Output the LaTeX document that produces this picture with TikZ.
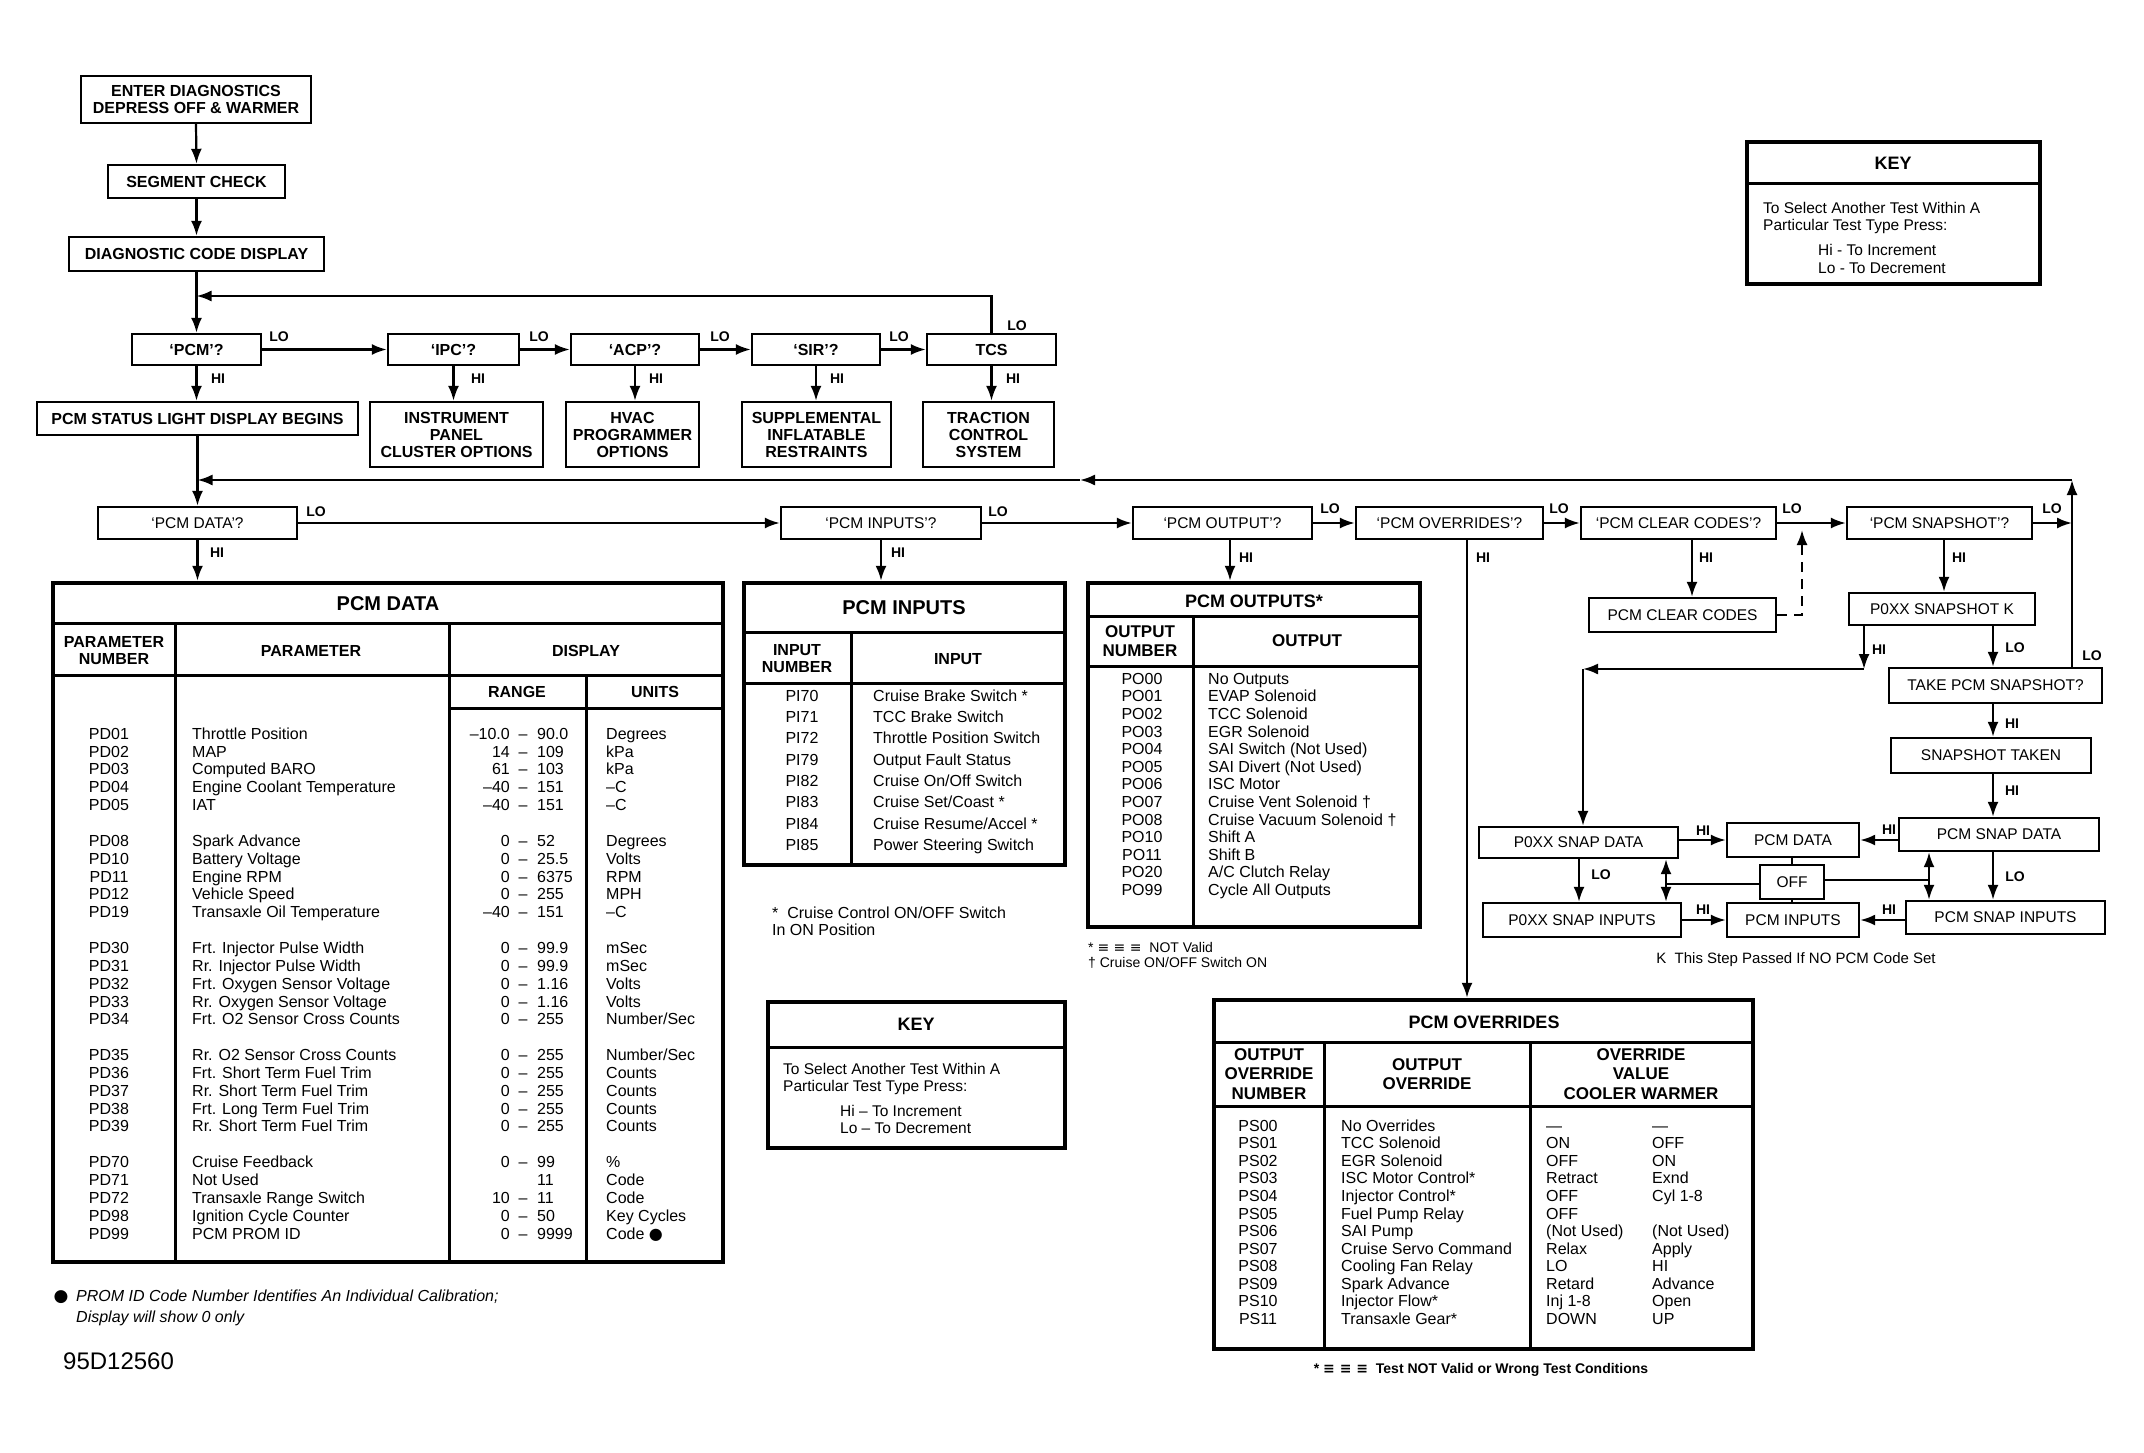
\documentclass[tikz,border=0pt]{standalone}
\usepackage{fontspec}
\setmainfont{Liberation Sans}
\newfontfamily\djv{DejaVu Sans}
\usetikzlibrary{arrows.meta,calc}
\newcommand\mkbox[7]{\node[#2, minimum width={(#5)-(#3)}, minimum height={(#6)-(#4)}] (#1) at ({((#3)+(#5))/2},{((#4)+(#6))/2}) {#7};}
\begin{document}
\begin{tikzpicture}[x=1pt,y=-1pt,
  fb/.style={draw, line width=2.4pt, inner sep=0pt, align=center, font=\bfseries\fontsize{16}{17}\selectfont},
  rb/.style={draw, line width=2.4pt, inner sep=0pt, align=center, font=\fontsize{15.5}{17}\selectfont},
  tframe/.style={draw, line width=4.5pt, inner sep=0pt},
  kframe/.style={draw, line width=3.5pt, inner sep=0pt},
  lbl/.style={font=\bfseries\fontsize{14}{14}\selectfont, inner sep=0pt},
  arr/.style={line width=2.2pt, -{Latex[length=15pt,width=11pt]}},
  darr/.style={line width=2.2pt, {Latex[length=15pt,width=11pt]}-{Latex[length=15pt,width=11pt]}},
  ln/.style={line width=2.2pt},
  divl/.style={line width=3pt},
  ttl/.style={font=\bfseries\fontsize{20}{20}\selectfont, inner sep=0pt},
  ttls/.style={font=\bfseries\fontsize{18}{18}\selectfont, inner sep=0pt},
  hd/.style={font=\bfseries\fontsize{16}{17}\selectfont, align=center, inner sep=0pt},
  hdb/.style={font=\bfseries\fontsize{17}{19.5}\selectfont, align=center, inner sep=0pt},
  cell/.style={font=\fontsize{16}{16}\selectfont, inner sep=0pt, text height=11.5pt, text depth=3pt},
  ktext/.style={font=\fontsize{15.5}{16}\selectfont, inner sep=0pt, anchor=west},
  notetxt/.style={font=\fontsize{14}{16}\selectfont, inner sep=0pt, anchor=west}]
\useasboundingbox[fill=white] (0,0) rectangle (2144,1453);

% ---------- top flow ----------
\mkbox{enter}{fb}{81}{76}{311}{123}{ENTER DIAGNOSTICS\\DEPRESS OFF \& WARMER}
\mkbox{seg}{fb}{108}{165}{285}{198}{SEGMENT CHECK}
\mkbox{diag}{fb}{69}{237}{324}{271}{DIAGNOSTIC CODE DISPLAY}
\mkbox{pcm}{fb}{132}{334}{261}{365}{‘PCM’?}
\mkbox{ipc}{fb}{388}{334}{519}{365}{‘IPC’?}
\mkbox{acp}{fb}{571}{334}{699}{365}{‘ACP’?}
\mkbox{sir}{fb}{752}{334}{880}{365}{‘SIR’?}
\mkbox{tcs}{fb}{927}{334}{1056}{365}{TCS}
\mkbox{status}{fb}{37}{402}{358}{435}{PCM STATUS LIGHT DISPLAY BEGINS}
\mkbox{ipco}{fb}{370}{402}{543}{467}{INSTRUMENT\\PANEL\\CLUSTER OPTIONS}
\mkbox{hvac}{fb}{566}{402}{699}{467}{HVAC\\PROGRAMMER\\OPTIONS}
\mkbox{sup}{fb}{742}{402}{891}{467}{SUPPLEMENTAL\\INFLATABLE\\RESTRAINTS}
\mkbox{trac}{fb}{923}{402}{1054}{467}{TRACTION\\CONTROL\\SYSTEM}

\draw[arr] (enter.south) -- (seg.north);
\draw[arr] (seg.south) -- (diag.north);
\draw[arr] (diag.south) -- (pcm.north);
\coordinate (loopL) at (196.5,296);
\draw[arr] (tcs.north) -- (tcs.north |- loopL) -- (loopL);
\node[lbl] (lotcs) at (1017,326) {LO};
\foreach \p/\q/\x in {pcm/ipc/279, ipc/acp/539, acp/sir/720, sir/tcs/899}{
  \draw[arr] (\p.east) -- (\q.west);
  \node[lbl] (lo\p) at (\x,337) {LO};
}
\foreach \p/\q/\x in {pcm/status/218, ipc/ipco/478, acp/hvac/656, sir/sup/837, tcs/trac/1013}{
  \draw[arr] (\p.south) -- (\p.south |- \q.north);
  \node[lbl] (hi\p) at (\x,379) {HI};
}

% ---------- second level ----------
\mkbox{pdata}{rb}{98}{507}{297}{539}{‘PCM DATA’?}
\mkbox{pinputs}{rb}{781}{507}{981}{539}{‘PCM INPUTS’?}
\mkbox{pout}{rb}{1133}{507}{1312}{539}{‘PCM OUTPUT’?}
\mkbox{pover}{rb}{1356}{507}{1543}{539}{‘PCM OVERRIDES’?}
\mkbox{pclear}{rb}{1581}{507}{1776}{539}{‘PCM CLEAR CODES’?}
\mkbox{psnap}{rb}{1847}{507}{2032}{539}{‘PCM SNAPSHOT’?}

\draw[arr] (status.south) -- (status.south |- pdata.north);
\foreach \p/\q/\x/\y in {pdata/pinputs/316/512, pinputs/pout/998/512, pout/pover/1330/509, pover/pclear/1559/509, pclear/psnap/1792/509}{
  \draw[arr] (\p.east) -- (\q.west);
  \node[lbl] (lo\p) at (\x,\y) {LO};
}
\coordinate (rx) at (2072,480);
\coordinate (rmid) at (1080,480);
\coordinate (lret) at (197.5,480);
\draw[arr] (psnap.east) -- (psnap.east -| rx);
\node[lbl] (lopsnap) at (2052,509) {LO};

% ---------- snapshot area ----------
\mkbox{clr}{rb}{1589}{598}{1776}{632}{PCM CLEAR CODES}
\mkbox{snapk}{rb}{1849}{593}{2035}{625}{P0XX SNAPSHOT K}
\mkbox{take}{rb}{1889}{668}{2102}{703}{TAKE PCM SNAPSHOT?}
\mkbox{taken}{rb}{1891}{738}{2091}{773}{SNAPSHOT TAKEN}
\mkbox{sdata}{rb}{1899}{818}{2099}{851}{PCM SNAP DATA}
\mkbox{sinp}{rb}{1906}{901}{2105}{934}{PCM SNAP INPUTS}
\mkbox{xdata}{rb}{1479}{827}{1678}{858}{P0XX SNAP DATA}
\mkbox{cdata}{rb}{1727}{823}{1859}{857}{PCM DATA}
\mkbox{xinp}{rb}{1483}{903}{1681}{937}{P0XX SNAP INPUTS}
\mkbox{cinp}{rb}{1727}{903}{1859}{937}{PCM INPUTS}
\mkbox{offb}{rb}{1760}{865}{1824}{899}{OFF}

% return line
\draw[arr] (take.north -| rx) -- (rx);
\draw[arr] (rx) -- (rmid);
\draw[arr] (rmid) -- (lret);
\node[lbl] (lotake) at (2092,656) {LO};

\coordinate (cx1) at (1692,0);
\draw[arr] (pclear.south -| cx1) -- (clr.north -| cx1);
\node[lbl] (hipclear) at (1706,558) {HI};
\coordinate (dtop) at (1802,530);
\draw[line width=2.2pt, dash pattern=on 10pt off 7pt, -{Latex[length=15pt,width=11pt]}] (clr.east) -| (dtop);

\coordinate (sx) at (1944,0);
\draw[arr] (psnap.south -| sx) -- (snapk.north -| sx);
\node[lbl] (hipsnap) at (1959,558) {HI};

\coordinate (kc) at (1864,669);
\coordinate (kl) at (1583,669);
\draw[arr] (snapk.south -| kc) -- (kc);
\draw[arr] (kc) -- (kl);
\draw[arr] (kl) -- (kl |- xdata.north);
\node[lbl] (hik) at (1879,650) {HI};

\coordinate (cx2) at (1993,0);
\draw[arr] (snapk.south -| cx2) -- (take.north -| cx2);
\node[lbl] (lok) at (2015,648) {LO};
\draw[arr] (take.south -| cx2) -- (taken.north -| cx2);
\node[lbl] (hitake) at (2012,724) {HI};
\draw[arr] (taken.south -| cx2) -- (sdata.north -| cx2);
\node[lbl] (hitaken) at (2012,791) {HI};
\draw[arr] (sdata.south -| cx2) -- (sinp.north -| cx2);
\node[lbl] (losdata) at (2015,877) {LO};

\draw[arr] (xdata.east |- cdata.west) -- (cdata.west);
\node[lbl] (hixdata) at (1703,831) {HI};
\draw[arr] (sdata.west |- cdata.east) -- (cdata.east);
\node[lbl] (hisdata) at (1889,830) {HI};
\draw[arr] (xinp.east |- cinp.west) -- (cinp.west);
\node[lbl] (hixinp) at (1703,910) {HI};
\draw[arr] (sinp.west |- cinp.east) -- (cinp.east);
\node[lbl] (hisinp) at (1889,910) {HI};
\coordinate (lx) at (1579,0);
\draw[arr] (xdata.south -| lx) -- (xinp.north -| lx);
\node[lbl] (loxdata) at (1601,875) {LO};

\draw[ln] (cdata.south -| offb.north) -- (offb.north);
\draw[ln] (offb.south) -- (offb.south |- cinp.north);
\coordinate (la) at (1666,884);
\coordinate (ra) at (1929,880);
\draw[ln] (offb.west |- la) -- (la);
\draw[darr] (la |- xdata.south) -- (la |- xinp.north);
\draw[ln] (offb.east |- ra) -- (ra);
\draw[darr] (ra |- sdata.south) -- (ra |- sinp.north);
\node[font=\fontsize{15}{16}\selectfont, inner sep=0pt] (knote) at (1796,960) {K\ \ This Step Passed If NO PCM Code Set};

% ---------- PCM DATA table ----------
\mkbox{tdata}{tframe}{53}{583}{723}{1262}{}
\draw[arr] (pdata.south) -- (pdata.south |- tdata.north);
\node[lbl] (hipdata) at (217,553) {HI};
\draw[divl] (53,623) -- (723,623);
\draw[divl] (53,675) -- (723,675);
\draw[divl] (449,708) -- (723,708);
\draw[divl] (175,623) -- (175,1262);
\draw[divl] (449,623) -- (449,1262);
\draw[divl] (586,675) -- (586,1262);
\node[ttl] (tdatat) at (388,604) {PCM DATA};
\node[hd] (h1) at (114,651) {PARAMETER\\NUMBER};
\node[hd] (h2) at (311,651) {PARAMETER};
\node[hd] (h3) at (586,651) {DISPLAY};
\node[hd] (h4) at (517,692) {RANGE};
\node[hd] (h5) at (655,692) {UNITS};
\foreach \i/\n/\p/\a/\d/\b/\u in {
0/PD01/Throttle Position/–10.0/–/90.0/Degrees,
1/PD02/MAP/14/–/109/kPa,
2/PD03/Computed BARO/61/–/103/kPa,
3/PD04/Engine Coolant Temperature/–40/–/151/–C,
4/PD05/IAT/–40/–/151/–C,
6/PD08/Spark Advance/0/–/52/Degrees,
7/PD10/Battery Voltage/0/–/25.5/Volts,
8/PD11/Engine RPM/0/–/6375/RPM,
9/PD12/Vehicle Speed/0/–/255/MPH,
10/PD19/Transaxle Oil Temperature/–40/–/151/–C,
12/PD30/Frt. Injector Pulse Width/0/–/99.9/mSec,
13/PD31/Rr. Injector Pulse Width/0/–/99.9/mSec,
14/PD32/Frt. Oxygen Sensor Voltage/0/–/1.16/Volts,
15/PD33/Rr. Oxygen Sensor Voltage/0/–/1.16/Volts,
16/PD34/Frt. O2 Sensor Cross Counts/0/–/255/{Number/Sec},
18/PD35/Rr. O2 Sensor Cross Counts/0/–/255/{Number/Sec},
19/PD36/Frt. Short Term Fuel Trim/0/–/255/Counts,
20/PD37/Rr. Short Term Fuel Trim/0/–/255/Counts,
21/PD38/Frt. Long Term Fuel Trim/0/–/255/Counts,
22/PD39/Rr. Short Term Fuel Trim/0/–/255/Counts,
24/PD70/Cruise Feedback/0/–/99/\%,
25/PD71/Not Used/{}/{}/11/Code,
26/PD72/Transaxle Range Switch/10/–/11/Code,
27/PD98/Ignition Cycle Counter/0/–/50/Key Cycles,
28/PD99/PCM PROM ID/0/–/9999/{Code {\djv ●}}}{
  \path (109,{735+\i*17.85}) node[cell] (dn\i) {\n}
        (192,{735+\i*17.85}) node[cell,anchor=west] (dp\i) {\p}
        (510,{735+\i*17.85}) node[cell,anchor=east] (da\i) {\a}
        (523,{735+\i*17.85}) node[cell] (dd\i) {\d}
        (537,{735+\i*17.85}) node[cell,anchor=west] (db\i) {\b}
        (606,{735+\i*17.85}) node[cell,anchor=west] (du\i) {\u};
}
\node[font=\djv\fontsize{17}{16}\selectfont, inner sep=0pt] (bul) at (61,1297) {●};
\node[font=\itshape\fontsize{16}{16}\selectfont, inner sep=0pt, anchor=west] (prom1) at (76,1297) {PROM ID Code Number Identifies An Individual Calibration;};
\node[font=\itshape\fontsize{16}{16}\selectfont, inner sep=0pt, anchor=west] (prom2) at (76,1318) {Display will show 0 only};
\node[font=\fontsize{24}{24}\selectfont, inner sep=0pt, anchor=west] (fig) at (63,1361) {95D12560};

% ---------- PCM INPUTS table ----------
\mkbox{tin}{tframe}{744}{583}{1065}{865}{}
\draw[arr] (pinputs.south) -- (pinputs.south |- tin.north);
\node[lbl] (hipinputs) at (898,553) {HI};
\draw[divl] (744,632) -- (1065,632);
\draw[divl] (744,683) -- (1065,683);
\draw[divl] (851,632) -- (851,865);
\node[ttl] (tint) at (904,608) {PCM INPUTS};
\node[hd] (ih1) at (797,659) {INPUT\\NUMBER};
\node[hd] (ih2) at (958,659) {INPUT};
\foreach \i/\n/\t in {0/PI70/{Cruise Brake Switch *}, 1/PI71/{TCC Brake Switch}, 2/PI72/{Throttle Position Switch}, 3/PI79/{Output Fault Status}, 4/PI82/{Cruise On/Off Switch}, 5/PI83/{Cruise Set/Coast *}, 6/PI84/{Cruise Resume/Accel *}, 7/PI85/{Power Steering Switch}}{
  \path (802,{697+\i*21.3}) node[cell] (in\i) {\n}
        (873,{697+\i*21.3}) node[cell,anchor=west] (it\i) {\t};
}
\node[notetxt, font=\fontsize{16}{16}\selectfont] (innote1) at (772,913) {*\ \ Cruise Control ON/OFF Switch};
\node[notetxt, font=\fontsize{16}{16}\selectfont] (innote2) at (772,930) {In ON Position};

% ---------- KEY (middle) ----------
\mkbox{key2}{kframe}{768}{1002}{1065}{1148}{}
\draw[divl] (768,1047) -- (1065,1047);
\node[ttls] (key2t) at (916,1024) {KEY};
\node[ktext] (k2a) at (783,1069) {To Select Another Test Within A};
\node[ktext] (k2b) at (783,1087) {Particular Test Type Press:};
\node[ktext] (k2c) at (840,1111) {Hi – To Increment};
\node[ktext] (k2d) at (840,1128) {Lo – To Decrement};

% ---------- PCM OUTPUTS table ----------
\mkbox{tout}{tframe}{1088}{583}{1420}{927}{}
\coordinate (ox) at (1230,0);
\draw[arr] (pout.south -| ox) -- (tout.north -| ox);
\node[lbl] (hipout) at (1246,558) {HI};
\draw[divl] (1088,616) -- (1420,616);
\draw[divl] (1088,666) -- (1420,666);
\draw[divl] (1193,616) -- (1193,927);
\node[ttls] (toutt) at (1254,601) {PCM OUTPUTS*};
\node[hdb] (oh1) at (1140,641) {OUTPUT\\NUMBER};
\node[hdb] (oh2) at (1307,641) {OUTPUT};
\foreach \i/\n/\t in {0/PO00/No Outputs, 1/PO01/EVAP Solenoid, 2/PO02/TCC Solenoid, 3/PO03/EGR Solenoid, 4/PO04/{SAI Switch (Not Used)}, 5/PO05/{SAI Divert (Not Used)}, 6/PO06/ISC Motor, 7/PO07/Cruise Vent Solenoid †, 8/PO08/Cruise Vacuum Solenoid †, 9/PO10/Shift A, 10/PO11/Shift B, 11/PO20/{A/C Clutch Relay}, 12/PO99/Cycle All Outputs}{
  \path (1142,{680+\i*17.6}) node[cell] (on\i) {\n}
        (1208,{680+\i*17.6}) node[cell,anchor=west] (ot\i) {\t};
}
\node[notetxt] (onote1) at (1088,947) {* {\djv ≡ ≡ ≡} \ NOT Valid};
\node[notetxt] (onote2) at (1088,963) {† Cruise ON/OFF Switch ON};

% ---------- PCM OVERRIDES table ----------
\mkbox{tover}{tframe}{1214}{1000}{1753}{1349}{}
\coordinate (vx) at (1467,0);
\draw[arr] (pover.south -| vx) -- (tover.north -| vx);
\node[lbl] (hipover) at (1483,558) {HI};
\draw[divl] (1214,1042) -- (1753,1042);
\draw[divl] (1214,1106) -- (1753,1106);
\draw[divl] (1324,1042) -- (1324,1349);
\draw[divl] (1530,1042) -- (1530,1349);
\node[ttls] (tovert) at (1484,1022) {PCM OVERRIDES};
\node[hdb] (vh1) at (1269,1074) {OUTPUT\\OVERRIDE\\NUMBER};
\node[hdb] (vh2) at (1427,1074) {OUTPUT\\OVERRIDE};
\node[hdb] (vh3) at (1641,1074) {OVERRIDE\\VALUE\\COOLER WARMER};
\foreach \i/\n/\t/\c/\w in {0/PS00/No Overrides/—/—, 1/PS01/TCC Solenoid/ON/OFF, 2/PS02/EGR Solenoid/OFF/ON, 3/PS03/ISC Motor Control*/Retract/Exnd, 4/PS04/Injector Control*/OFF/Cyl 1-8, 5/PS05/Fuel Pump Relay/OFF/{}, 6/PS06/SAI Pump/{(Not Used)}/{(Not Used)}, 7/PS07/Cruise Servo Command/Relax/Apply, 8/PS08/Cooling Fan Relay/LO/HI, 9/PS09/Spark Advance/Retard/Advance, 10/PS10/Injector Flow*/Inj 1-8/Open, 11/PS11/Transaxle Gear*/DOWN/UP}{
  \path (1258,{1127+\i*17.55}) node[cell] (vn\i) {\n}
        (1341,{1127+\i*17.55}) node[cell,anchor=west] (vt\i) {\t}
        (1546,{1127+\i*17.55}) node[cell,anchor=west] (vc\i) {\c}
        (1652,{1127+\i*17.55}) node[cell,anchor=west] (vw\i) {\w};
}
\node[font=\bfseries\fontsize{14}{14}\selectfont, inner sep=0pt] (vnote) at (1481,1370) {* {\djv ≡ ≡ ≡} \ Test NOT Valid or Wrong Test Conditions};

% ---------- KEY (top right) ----------
\mkbox{key1}{kframe}{1747}{142}{2040}{284}{}
\draw[divl] (1747,183) -- (2040,183);
\node[ttls] (key1t) at (1893,163) {KEY};
\node[ktext] (k1a) at (1763,208) {To Select Another Test Within A};
\node[ktext] (k1b) at (1763,226) {Particular Test Type Press:};
\node[ktext] (k1c) at (1818,250) {Hi - To Increment};
\node[ktext] (k1d) at (1818,268) {Lo - To Decrement};
\end{tikzpicture}
\end{document}
